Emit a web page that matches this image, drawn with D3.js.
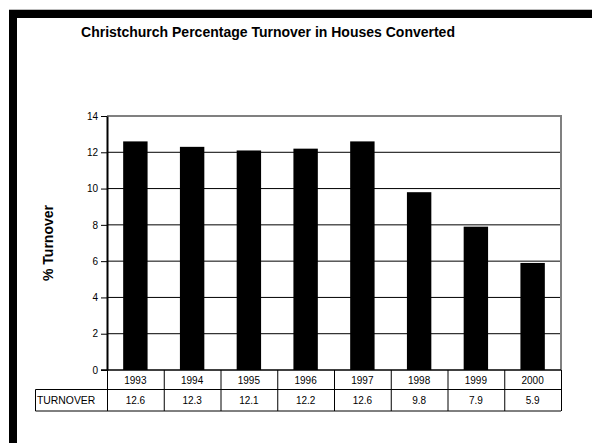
<!DOCTYPE html>
<html><head><meta charset="utf-8">
<script src="https://cdn.jsdelivr.net/npm/d3@7/dist/d3.min.js"></script>
<style>body{margin:0;background:#fff}svg{display:block}text{font-family:"Liberation Sans",Arial,sans-serif}</style>
</head><body><svg id="c" width="592" height="443"></svg>
<script>
const years = ["1993","1994","1995","1996","1997","1998","1999","2000"];
const turnover = [12.6, 12.3, 12.1, 12.2, 12.6, 9.8, 7.9, 5.9];
const yTicks = [0, 2, 4, 6, 8, 10, 12, 14];
const seriesName = "TURNOVER";
const title = "Christchurch Percentage Turnover in Houses Converted";
const yLabel = "% Turnover";

const svg = d3.select("#c");
// outer frame
svg.append("line").attr("x1", 9).attr("x2", 592).attr("y1", 9.5).attr("y2", 9.5).attr("stroke", "#bbb").attr("stroke-width", 1);
svg.append("rect").attr("x", 13).attr("y", 14).attr("width", 600).attr("height", 460)
  .attr("fill", "none").attr("stroke", "#000").attr("stroke-width", 8);

const L = 107, R = 561, T = 116, B = 370;
const x = d3.scaleBand().domain(years).range([L, R]).paddingInner(0.57).paddingOuter(0.285);
const xb = d3.scaleBand().domain(years).range([L, R]);
const y = d3.scaleLinear().domain([0, 14]).range([B, T]);

svg.append("text").attr("x", 268).attr("y", 37).attr("text-anchor", "middle")
  .attr("font-size", 14).attr("font-weight", "bold").text(title);

// gridlines
svg.append("g").selectAll("line").data(yTicks.filter(d => d > 0 && d < 14)).join("line")
  .attr("x1", L).attr("x2", R).attr("y1", d => y(d)).attr("y2", d => y(d))
  .attr("stroke", "#000").attr("stroke-width", 1);
// top and right border (gray)
svg.append("line").attr("x1", L).attr("x2", R + 1).attr("y1", y(14)).attr("y2", y(14))
  .attr("stroke", "#808080").attr("stroke-width", 2);
svg.append("line").attr("x1", R).attr("x2", R).attr("y1", y(14)).attr("y2", B)
  .attr("stroke", "#808080").attr("stroke-width", 2);

// bars
svg.append("g").selectAll("rect").data(turnover).join("rect")
  .attr("x", (d, i) => x(years[i])).attr("width", x.bandwidth())
  .attr("y", d => y(d)).attr("height", d => B - y(d)).attr("fill", "#000");

// y axis
const ya = svg.append("g").attr("transform", `translate(${L},0)`)
  .call(d3.axisLeft(y).tickValues(yTicks).tickSize(6).tickSizeOuter(0).tickPadding(3));
ya.select(".domain").attr("stroke", "#000").attr("stroke-width", 2);
ya.selectAll(".tick line").attr("stroke", "#000");
ya.selectAll(".tick text").attr("font-size", 10).attr("font-family", "Liberation Sans, Arial, sans-serif").attr("fill", "#000");

svg.append("text").attr("transform", `translate(53,${(T + B) / 2}) rotate(-90)`)
  .attr("text-anchor", "middle").attr("font-size", 14).attr("font-weight", "bold").text(yLabel);

// data table
const rowTop = B, rowMid = 389.5, rowBot = 411, tblL = 35.5;
const t = svg.append("g");
t.append("line").attr("x1", L - 6).attr("x2", R).attr("y1", B).attr("y2", B).attr("stroke", "#000").attr("stroke-width", 1.5);
t.append("line").attr("x1", tblL).attr("x2", R).attr("y1", rowMid).attr("y2", rowMid).attr("stroke", "#000");
t.append("line").attr("x1", tblL).attr("x2", R).attr("y1", rowBot).attr("y2", rowBot).attr("stroke", "#000");
t.append("line").attr("x1", tblL).attr("x2", tblL).attr("y1", rowMid).attr("y2", rowBot).attr("stroke", "#000");
t.selectAll(".v").data(years).join("line").attr("class", "v")
  .attr("x1", d => xb(d) + 0.5).attr("x2", d => xb(d) + 0.5).attr("y1", rowTop).attr("y2", rowBot).attr("stroke", "#000");
t.append("line").attr("x1", R + 0.5).attr("x2", R + 0.5).attr("y1", rowTop).attr("y2", rowBot).attr("stroke", "#000");
t.selectAll(".yr").data(years).join("text").attr("class", "yr")
  .attr("x", d => xb(d) + xb.bandwidth() / 2).attr("y", 383.5).attr("text-anchor", "middle")
  .attr("font-size", 10).text(d => d);
t.selectAll(".val").data(turnover).join("text").attr("class", "val")
  .attr("x", (d, i) => xb(years[i]) + xb.bandwidth() / 2).attr("y", 404).attr("text-anchor", "middle")
  .attr("font-size", 10).text(d => d.toFixed(1));
t.append("text").attr("x", 37).attr("y", 404).attr("font-size", 10.4).text(seriesName);
</script></body></html>
